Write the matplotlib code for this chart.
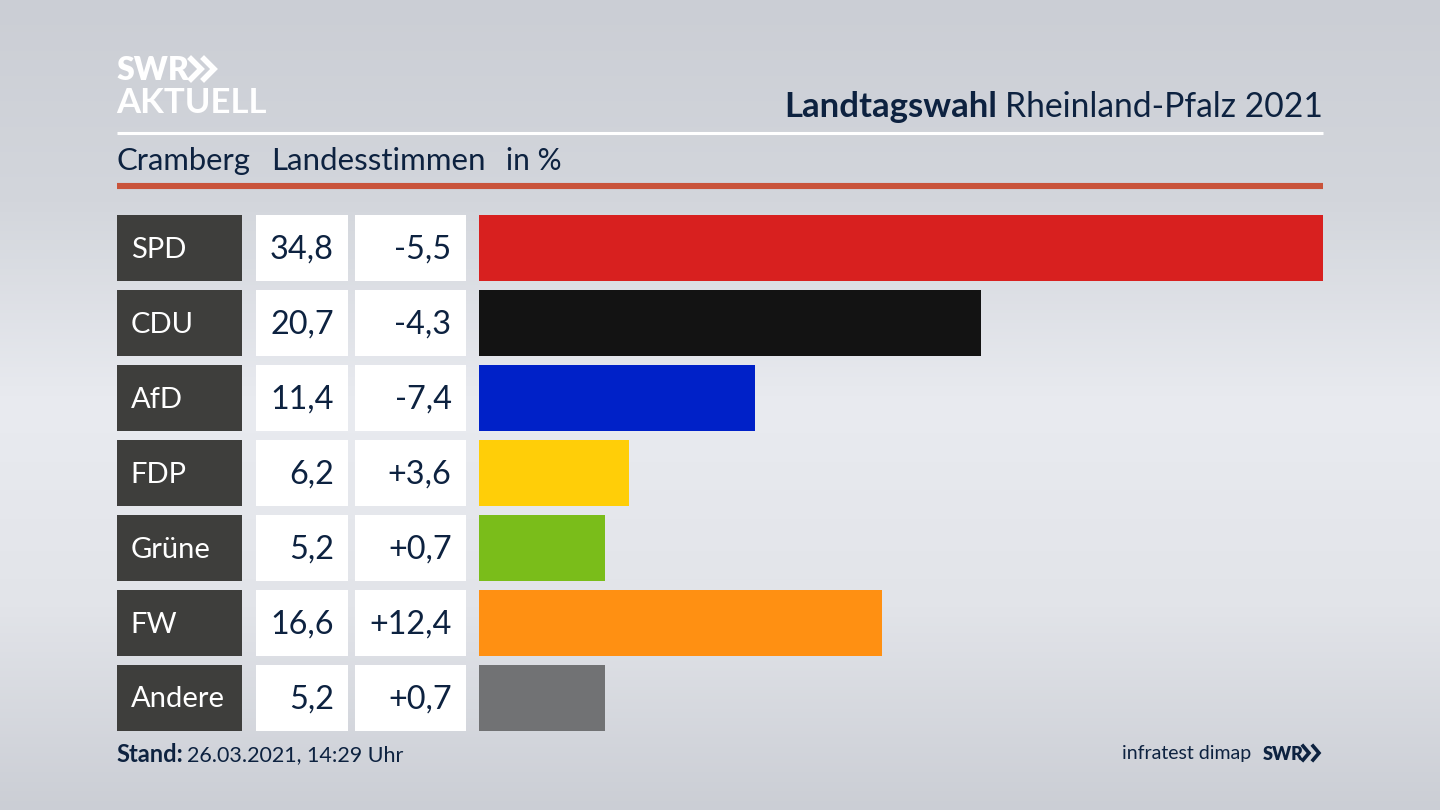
import numpy as np
import matplotlib.pyplot as plt
from matplotlib.colors import LinearSegmentedColormap

plt.rcParams['font.family'] = ['Lato', 'DejaVu Sans']

parties = ['SPD', 'CDU', 'AfD', 'FDP', 'Grüne', 'FW', 'Andere']
shares = [34.8, 20.7, 11.4, 6.2, 5.2, 16.6, 5.2]
changes = ['-5,5', '-4,3', '-7,4', '+3,6', '+0,7', '+12,4', '+0,7']
colors = ['#d8201f', '#131313', '#0021c8', '#ffce08', '#7abd1a', '#ff9012', '#717274']

navy = '#0d2240'
W, H = 1440, 810
fig = plt.figure(figsize=(W / 100, H / 100), dpi=100)


def px_axes(x0, y0, x1, y1):
    return fig.add_axes([x0 / W, 1 - y1 / H, (x1 - x0) / W, (y1 - y0) / H])


# background and header, axes in pixels
bg = px_axes(0, 0, W, H)
cmap = LinearSegmentedColormap.from_list('bg', ['#cbced5', '#d3d6dc', '#e9ebf0', '#e2e4e9', '#cbced5'])
grad = np.linspace(0, 1, 256).reshape(-1, 1)
bg.imshow(grad, cmap=cmap, extent=[0, W, H, 0], aspect='auto')
bg.set_xlim(0, W)
bg.set_ylim(H, 0)
bg.axis('off')

bg.plot([117, 1323], [133, 133], color='white', lw=2.2, solid_capstyle='butt')
bg.plot([117, 1323], [186, 186], color='#c9533a', lw=4.4, solid_capstyle='butt')

bg.text(117, 70, 'SWR', color='white', fontsize=23, fontweight='heavy', va='center', ha='left')
bg.text(116, 103, 'AKTUELL', color='white', fontsize=25, fontweight='bold', va='center', ha='left')
for x in (191, 204):
    bg.plot([x, x + 10, x], [59, 69, 79], color='white', lw=4, solid_joinstyle='miter')

bg.text(1323, 107, 'Rheinland-Pfalz 2021', color=navy, fontsize=24.2, va='center', ha='right')
bg.text(997, 107, 'Landtagswahl', color=navy, fontsize=25, fontweight='bold', va='center', ha='right')
bg.text(116, 161, 'Cramberg', color=navy, fontsize=22.3, va='center')
bg.text(271, 161, 'Landesstimmen', color=navy, fontsize=22.5, va='center')
bg.text(506, 161, 'in %', color=navy, fontsize=21.5, va='center')

bg.text(116, 755, 'Stand:', color=navy, fontsize=17, fontweight='bold', va='center')
bg.text(187, 755, '26.03.2021, 14:29 Uhr', color=navy, fontsize=15.5, va='center')
bg.text(1251, 754, 'infratest dimap', color=navy, fontsize=14, va='center', ha='right')
bg.text(1263, 754, 'SWR', color=navy, fontsize=13, fontweight='heavy', va='center')
for x in (1303, 1313):
    bg.plot([x, x + 6, x], [746, 753, 760], color=navy, lw=2.6, solid_joinstyle='miter')

# rows
rows = np.arange(len(parties))
bar_h = 0.887
ylim = (rows[-1] + bar_h / 2, -bar_h / 2)
top, bottom = 215, 731.2


def cell_column(x0, x1, color):
    ax = px_axes(x0, top, x1, bottom)
    ax.barh(rows, np.ones(len(rows)), height=bar_h, color=color)
    ax.set_xlim(0, 1)
    ax.set_ylim(*ylim)
    ax.axis('off')
    return ax


ax_party = cell_column(117, 241.5, '#3e3e3c')
ax_share = cell_column(255.5, 348, 'white')
ax_change = cell_column(354.5, 466, 'white')

for i in rows:
    ax_party.text(0.11, i + 0.02, parties[i], color='white', fontsize=21, va='center', ha='left')
    ax_share.text(0.845, i + 0.02, f'{shares[i]:.1f}'.replace('.', ','), color=navy, fontsize=23.3, va='center', ha='right')
    ax_change.text(0.87, i + 0.02, changes[i], color=navy, fontsize=23.3, va='center', ha='right')

ax = px_axes(479, top, 1323, bottom)
ax.barh(rows, shares, height=bar_h, color=colors)
ax.set_xlim(0, max(shares))
ax.set_ylim(*ylim)
ax.axis('off')

fig.savefig('out.png', dpi=100)
